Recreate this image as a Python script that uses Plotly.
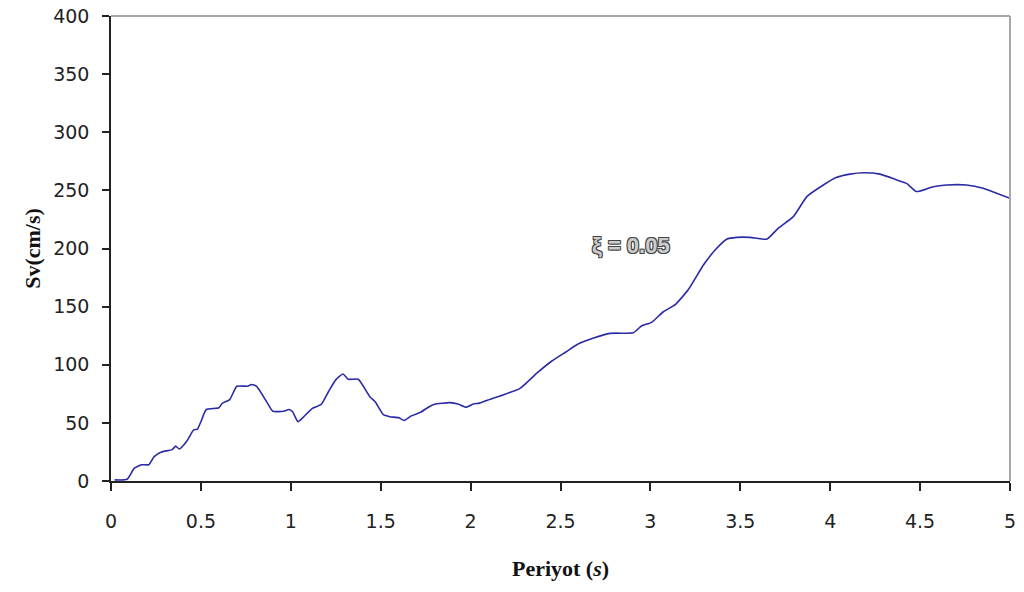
import plotly.graph_objs as go

# period (s) and spectral velocity (cm/s)
periyot = [0.02, 0.09, 0.13, 0.17, 0.21, 0.24, 0.28, 0.34, 0.36, 0.38,
           0.42, 0.46, 0.48, 0.50, 0.53, 0.60, 0.62, 0.66, 0.70, 0.76,
           0.78, 0.81, 0.87, 0.90, 0.96, 0.99, 1.01, 1.04, 1.07, 1.12,
           1.17, 1.21, 1.25, 1.29, 1.32, 1.375, 1.44, 1.47, 1.515, 1.55,
           1.60, 1.63, 1.67, 1.72, 1.765, 1.80, 1.885, 1.93, 1.975, 2.015,
           2.05, 2.11, 2.18, 2.275, 2.37, 2.45, 2.53, 2.60, 2.68, 2.775,
           2.905, 2.95, 3.007, 3.072, 3.14, 3.21, 3.295, 3.36, 3.424, 3.48,
           3.554, 3.647, 3.71, 3.795, 3.87, 3.962, 4.036, 4.11, 4.184, 4.277,
           4.37, 4.425, 4.48, 4.573, 4.647, 4.758, 4.851, 4.925, 5.0]
sv = [1, 1.5, 11, 14, 14, 21, 25, 27, 30, 27.5,
      34, 44, 44.5, 51, 61.5, 63, 67, 70, 81.5, 81.5,
      83, 81.5, 67, 60, 60, 61.5, 59.5, 51, 55, 62.5,
      66, 77, 87, 92, 87.5, 87.5, 72.5, 68, 57, 55.3,
      54.5, 52, 56, 59, 63.5, 66, 67.4, 66.2, 63.4, 66.2,
      67, 70.3, 74, 79.7, 93, 103, 111, 118, 122.7, 127,
      127.6, 133.3, 136.5, 145.6, 152, 164.5, 185.8, 198.7, 208, 209.6,
      209.6, 208, 217.3, 227.4, 244.6, 254.6, 261.2, 264, 265.2, 264,
      259, 256, 249, 253.2, 254.6, 254.6, 251.8, 247.5, 243.2]

x_ticks = [0, 0.5, 1, 1.5, 2, 2.5, 3, 3.5, 4, 4.5, 5]
x_labels = ['0', '0.5', '1', '1.5', '2', '2.5', '3', '3.5', '4', '4.5', '5']

trace = go.Scatter(x=periyot, y=sv, mode='lines',
                   line=dict(color='#2B2BA6', width=1.6, shape='spline',
                             smoothing=0.5),
                   showlegend=False)

tick_font = dict(family='DejaVu Sans', size=19, color='#222')
title_font = dict(family='Liberation Serif', size=22, color='#111')

# page body has an 8px margin, so the figure is sized to fit the window
layout = go.Layout(
    width=1016, height=584,
    margin=dict(l=103, r=14, t=8, b=111),
    paper_bgcolor='white', plot_bgcolor='white',
    xaxis=dict(range=[0, 5], tickvals=x_ticks, ticktext=x_labels,
               showgrid=False, zeroline=False, showline=True,
               linecolor='#222', linewidth=1.5, ticks='outside',
               ticklen=8, tickcolor='#222', tickwidth=1.5,
               tickfont=tick_font, ticklabelstandoff=14, automargin=False,
               ticklabeloverflow='allow',
               title=dict(text='<b>Periyot (<i>s</i>)</b>', font=title_font,
                          standoff=30)),
    yaxis=dict(range=[0, 400], dtick=50, showgrid=False, zeroline=False,
               showline=True, linecolor='#222', linewidth=1.5,
               ticks='outside', ticklen=7, tickcolor='#222', tickwidth=1.5,
               tickfont=tick_font, ticklabelstandoff=9, automargin=False,
               ticklabeloverflow='allow',
               title=dict(text='<b>Sv(cm/s)</b>', font=title_font,
                          standoff=6)),
    shapes=[
        dict(type='line', xref='paper', yref='paper', x0=0, x1=1, y0=1, y1=1,
             line=dict(color='#A8A8A8', width=2)),
        dict(type='line', xref='paper', yref='paper', x0=1, x1=1, y0=0, y1=1,
             line=dict(color='#A8A8A8', width=2)),
    ],
    annotations=[dict(
        x=2.89, y=203, xref='x', yref='y', text='<b>ξ = 0.05</b>',
        showarrow=False,
        font=dict(family='Liberation Sans Narrow, Liberation Sans', size=22,
                  color='#cccccc',
                  shadow='-1px -1px 0 #444, 1px -1px 0 #444, '
                         '-1px 1px 0 #444, 1px 1px 0 #444'))],
)

fig = go.Figure(data=[trace], layout=layout)
fig.write_html('out.html')
